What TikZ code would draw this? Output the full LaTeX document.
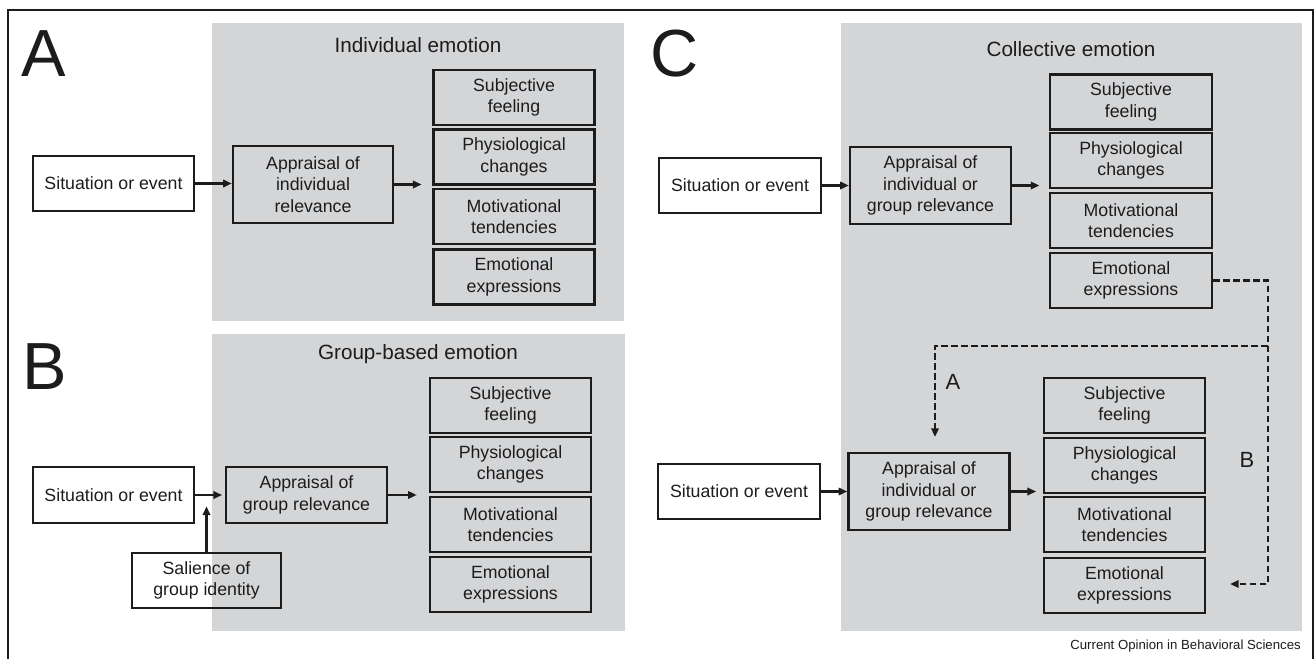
\documentclass[tikz,border=0pt]{standalone}
\usepackage{fontspec}
\setmainfont{Liberation Sans}
\usetikzlibrary{arrows.meta}
\definecolor{panelgray}{RGB}{212,213,215}
\definecolor{ink}{RGB}{28,28,28}
\tikzset{
  x=0.75pt, y=-0.75pt,
  box/.style={draw=ink, line width=1.8pt, align=center, inner sep=1pt, text=ink,
    font=\fontsize{13.3}{16.2}\selectfont},
  panel/.style={fill=panelgray, draw=none},
  arr/.style={draw=ink, line width=1.7pt, -{Triangle[length=6.5pt,width=5.5pt]}},
  dsh/.style={draw=ink, line width=1.7pt, dash pattern=on 5pt off 2.5pt},
  title/.style={text=ink, font=\fontsize{15.5}{18}\selectfont},
  biglet/.style={anchor=base west, inner sep=0pt, text=ink, font=\fontsize{50}{50}\selectfont},
  pathlbl/.style={text=ink, font=\fontsize{16.5}{18}\selectfont}
}
\begin{document}
\begin{tikzpicture}
\useasboundingbox (0,0) rectangle (1316,659);
% outer frame
\draw[line width=1.1pt, ink] (8,659) -- (8,10) -- (1313,10) -- (1313,659);

% panels
\fill[panel] (212,23) rectangle (624,321);
\fill[panel] (212,334) rectangle (625,631);
\fill[panel] (841,23) rectangle (1302,631);

% big letters
\node[biglet] (LA) at (21,77) {A};
\node[biglet] (LB) at (22,389) {B};
\node[biglet] (LC) at (650,77) {C};

% titles
\node[title] (tA) at (418,45) {Individual emotion};
\node[title] (tB) at (418,354) {Group-based emotion};
\node[title] (tC) at (1071,49) {Collective emotion};

% ---------- Panel A ----------
\node[box, minimum width=120.75pt, minimum height=41.25pt] (sitA) at (113.5,183.5) {Situation or event};
\node[box, minimum width=120pt, minimum height=57.75pt] (apA) at (313,184.5) {Appraisal of\\individual\\relevance};
\node[box, minimum width=120.75pt, minimum height=41.25pt] (sfA) at (514,97.5) {Subjective\\feeling};
\node[box, minimum width=120.75pt, minimum height=41.25pt] (phA) at (514,157) {Physiological\\changes};
\node[box, minimum width=120.75pt, minimum height=41.25pt] (mtA) at (514,216.5) {Motivational\\tendencies};
\node[box, minimum width=120.75pt, minimum height=41.25pt] (eeA) at (514,277) {Emotional\\expressions};
\draw[arr] (sitA.east) -- (sitA.east -| apA.west);
\draw[arr, shorten >=8pt] (apA.east) -- (apA.east -| phA.west);

% ---------- Panel B ----------
\node[box, minimum width=120.75pt, minimum height=42pt] (sitB) at (113.5,495) {Situation or event};
\node[box, minimum width=120.75pt, minimum height=42pt] (apB) at (306.5,495) {Appraisal of\\group relevance};
\node[box, minimum width=120.75pt, minimum height=41.25pt] (sfB) at (510.5,405.5) {Subjective\\feeling};
\node[box, minimum width=120.75pt, minimum height=41.25pt] (phB) at (510.5,464.5) {Physiological\\changes};
\node[box, minimum width=120.75pt, minimum height=41.25pt] (mtB) at (510.5,524.5) {Motivational\\tendencies};
\node[box, minimum width=120.75pt, minimum height=41.25pt] (eeB) at (510.5,584.5) {Emotional\\expressions};
\node[box, minimum width=111.75pt, minimum height=41.25pt] (salB) at (206.5,580.5) {Salience of\\group identity};
\draw[arr, shorten >=2pt] (sitB.east) -- (sitB.east -| apB.west);
\draw[arr, shorten >=9pt] (apB.east) -- (apB.east -| phB.west);
\draw[arr, shorten >=8.5pt] (salB.north) -- (salB.north |- sitB.east);

% ---------- Panel C (upper) ----------
\node[box, minimum width=121.5pt, minimum height=41.25pt] (sitC1) at (740,185.5) {Situation or event};
\node[box, minimum width=120.75pt, minimum height=57.75pt] (apC1) at (930.5,185.5) {Appraisal of\\individual or\\group relevance};
\node[box, minimum width=121.5pt, minimum height=41.25pt] (sfC1) at (1131,102) {Subjective\\feeling};
\node[box, minimum width=121.5pt, minimum height=41.25pt] (phC1) at (1131,160.5) {Physiological\\changes};
\node[box, minimum width=121.5pt, minimum height=41.25pt] (mtC1) at (1131,220.5) {Motivational\\tendencies};
\node[box, minimum width=121.5pt, minimum height=41.25pt] (eeC1) at (1131,280.5) {Emotional\\expressions};
\draw[arr] (sitC1.east) -- (sitC1.east -| apC1.west);
\draw[arr, shorten >=7pt] (apC1.east) -- (apC1.east -| phC1.west);

% ---------- Panel C (lower) ----------
\node[box, minimum width=121.5pt, minimum height=41.25pt] (sitC2) at (739,491.5) {Situation or event};
\node[box, minimum width=120.75pt, minimum height=57.75pt] (apC2) at (929,491.5) {Appraisal of\\individual or\\group relevance};
\node[box, minimum width=120.75pt, minimum height=41.25pt] (sfC2) at (1124.5,405.5) {Subjective\\feeling};
\node[box, minimum width=120.75pt, minimum height=41.25pt] (phC2) at (1124.5,465.5) {Physiological\\changes};
\node[box, minimum width=120.75pt, minimum height=41.25pt] (mtC2) at (1124.5,524.5) {Motivational\\tendencies};
\node[box, minimum width=120.75pt, minimum height=41.25pt] (eeC2) at (1124.5,585.5) {Emotional\\expressions};
\draw[arr] (sitC2.east) -- (sitC2.east -| apC2.west);
\draw[arr, shorten >=5pt] (apC2.east) -- (apC2.east -| phC2.west);

% dashed feedback paths
\coordinate (bend) at (1268,346);
\coordinate (tipA) at (935,437);
\coordinate (tipB) at (1230,584);
\draw[dsh, -{Triangle[length=6.5pt,width=5.5pt]}] (eeC1.east) -- (eeC1.east -| bend) -- (bend |- tipB) -- (tipB);
\draw[dsh, -{Triangle[length=6.5pt,width=5.5pt]}] (bend) -- (bend -| tipA) -- (tipA);
\node[pathlbl] (lblA) at (953,382) {A};
\node[pathlbl] (lblB) at (1247,460) {B};

% caption
\node[anchor=east, inner sep=0pt, text=ink, font=\fontsize{9.9}{11}\selectfont] (cap) at (1301,646) {Current Opinion in Behavioral Sciences};
\end{tikzpicture}
\end{document}
